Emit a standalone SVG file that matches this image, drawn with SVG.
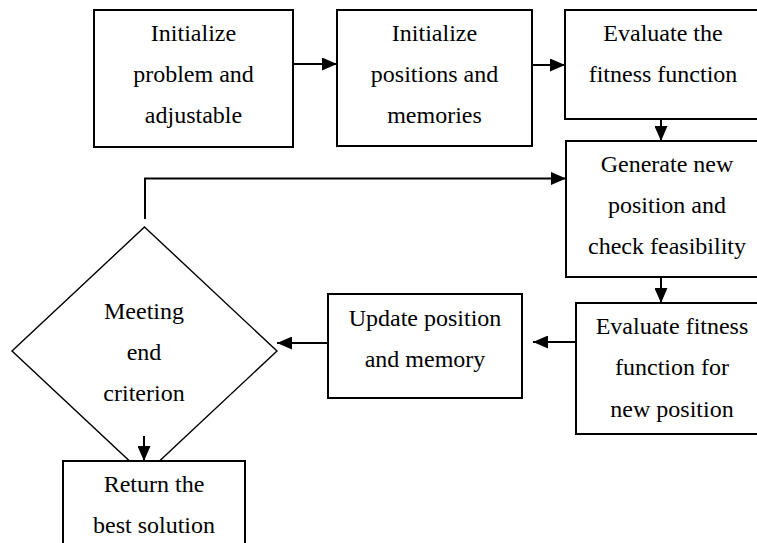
<svg xmlns="http://www.w3.org/2000/svg" width="757" height="543" viewBox="0 0 757 543" font-family="Liberation Serif, Times New Roman, serif">
<style>
.box{fill:#fff;stroke:#000;stroke-width:2}
.dia{fill:#fff;stroke:#000;stroke-width:1.4}
.t{font-size:24px;fill:#000;text-anchor:middle}
.c{fill:none;stroke:#000;stroke-width:2}
</style>
<defs>
<marker id="ah" markerUnits="userSpaceOnUse" markerWidth="15" markerHeight="13" refX="15" refY="6.5" orient="auto">
<path d="M0,0 L15,6.5 L0,13 z" fill="#000"/>
</marker>
<clipPath id="dclip"><rect x="0" y="220" width="300" height="182.5"/></clipPath>
</defs>
<rect width="757" height="543" fill="#fff"/>
<g id="n1"><rect class="box" x="94" y="10" width="199" height="137"/>
<text class="t" font-family="Liberation Serif, serif" x="193.5" y="41">Initialize</text><text class="t" font-family="Liberation Serif, serif" x="193.5" y="82">problem and</text><text class="t" font-family="Liberation Serif, serif" x="193.5" y="123">adjustable</text></g>
<g id="n2"><rect class="box" x="337" y="10" width="195" height="136"/>
<text class="t" font-family="Liberation Serif, serif" x="434.5" y="41">Initialize</text><text class="t" font-family="Liberation Serif, serif" x="434.5" y="82">positions and</text><text class="t" font-family="Liberation Serif, serif" x="434.5" y="123">memories</text></g>
<g id="n3"><rect class="box" x="565" y="10" width="205" height="109"/>
<text class="t" font-family="Liberation Serif, serif" x="663" y="41">Evaluate the</text><text class="t" font-family="Liberation Serif, serif" x="663" y="82">fitness function</text></g>
<g id="n4"><rect class="box" x="566" y="141" width="204" height="136"/>
<text class="t" font-family="Liberation Serif, serif" x="667" y="172">Generate new</text><text class="t" font-family="Liberation Serif, serif" x="667" y="213">position and</text><text class="t" font-family="Liberation Serif, serif" x="667" y="254">check feasibility</text></g>
<g id="n5"><rect class="box" x="576" y="303" width="194" height="131"/>
<text class="t" font-family="Liberation Serif, serif" x="672" y="333.5">Evaluate fitness</text><text class="t" font-family="Liberation Serif, serif" x="672" y="375">function for</text><text class="t" font-family="Liberation Serif, serif" x="672" y="416.5">new position</text></g>
<g id="n6"><rect class="box" x="328" y="294" width="194" height="104"/>
<text class="t" font-family="Liberation Serif, serif" x="425" y="326">Update position</text><text class="t" font-family="Liberation Serif, serif" x="425" y="367">and memory</text></g>
<g id="n7"><polygon class="dia" points="144.5,227 277,351 144.5,475 12,351"/>
<g clip-path="url(#dclip)"><text class="t" font-family="Liberation Serif, serif" x="144" y="319">Meeting</text><text class="t" font-family="Liberation Serif, serif" x="144" y="360">end</text><text class="t" font-family="Liberation Serif, serif" x="144" y="401">criterion</text></g></g>
<g id="n8"><rect class="box" x="63" y="461" width="182" height="110"/>
<text class="t" font-family="Liberation Serif, serif" x="154" y="492">Return the</text><text class="t" font-family="Liberation Serif, serif" x="154" y="533">best solution</text></g>
<g id="connectors">
<line class="c" x1="293" y1="64" x2="337" y2="64" marker-end="url(#ah)"/>
<line class="c" x1="532" y1="65" x2="565" y2="65" marker-end="url(#ah)"/>
<line class="c" x1="661" y1="119" x2="661" y2="141" marker-end="url(#ah)"/>
<line class="c" x1="661" y1="277" x2="661" y2="303" marker-end="url(#ah)"/>
<line class="c" x1="576" y1="342" x2="533" y2="342" marker-end="url(#ah)"/>
<line class="c" x1="328" y1="343" x2="277" y2="343" marker-end="url(#ah)"/>
<line class="c" x1="144" y1="436" x2="144" y2="461" marker-end="url(#ah)"/>
<polyline class="c" points="145,219 145,178.5 566,178.5" marker-end="url(#ah)"/>
</g>
</svg>
